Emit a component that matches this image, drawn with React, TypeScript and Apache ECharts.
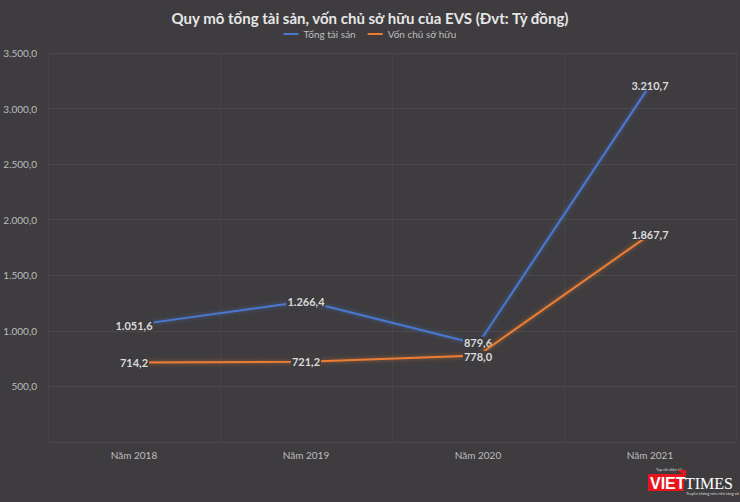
import React, { useEffect, useRef } from "react";
import * as echarts from "echarts";

const categories = ["Năm 2018", "Năm 2019", "Năm 2020", "Năm 2021"];
const tongTaiSan = [1051.6, 1266.4, 879.6, 3210.7];
const vonChuSoHuu = [714.2, 721.2, 778.0, 1867.7];
const seriesNames = ["Tổng tài sản", "Vốn chủ sở hữu"];
const titleText = "Quy mô tổng tài sản, vốn chủ sở hữu của EVS (Đvt: Tỷ đồng)";

const BG = "#3e3c3f";
const FONT = "Lato, 'Open Sans', sans-serif";

function fmt(v: number): string {
  const fixed = v.toFixed(1);
  const [intPart, dec] = fixed.split(".");
  const withDots = intPart.replace(/\B(?=(\d{3})+(?!\d))/g, ".");
  return withDots + "," + dec;
}

export default function App() {
  const ref = useRef<HTMLDivElement>(null);
  useEffect(() => {
    if (!ref.current) return;
    const chart = echarts.init(ref.current, undefined, { renderer: "svg" });
    const makeLabel = () => ({
      show: true,
      position: "inside",
      formatter: (p: any) => fmt(p.value),
      color: "#dadada",
      fontWeight: "bold",
      fontSize: 11,
      fontFamily: FONT,
      backgroundColor: BG,
      padding: [0, 1],
    });
    // nudge the two crowded labels at 2020 apart slightly
    const blueData = tongTaiSan.map((v, i) =>
      i === 2 ? { value: v, label: { offset: [0, -2] } } : v
    );
    const orangeData = vonChuSoHuu.map((v, i) =>
      i === 2 ? { value: v, label: { offset: [0, 1] } } : v
    );
    chart.setOption({
      animation: false,
      backgroundColor: BG,
      textStyle: { fontFamily: FONT },
      title: {
        text: titleText,
        left: "center",
        top: 5,
        textStyle: { color: "#e6e6e6", fontSize: 15, fontWeight: "bold", fontFamily: FONT },
      },
      legend: {
        top: 24,
        left: "center",
        icon: "rect",
        itemWidth: 15,
        itemHeight: 2,
        itemGap: 12,
        textStyle: { color: "#bdbdbd", fontSize: 10, fontFamily: FONT },
        data: seriesNames,
      },
      grid: { left: 48, right: 4, top: 53, bottom: 60 },
      xAxis: {
        type: "category",
        data: categories,
        boundaryGap: true,
        axisLine: { show: false },
        axisTick: { show: false },
        axisLabel: { color: "#bdbdbd", fontSize: 10, margin: 8, fontFamily: FONT },
        splitLine: { show: true, lineStyle: { color: "#474548", width: 1 } },
      },
      yAxis: {
        type: "value",
        min: 0,
        max: 3500,
        interval: 500,
        axisLine: { show: false },
        axisTick: { show: false },
        axisLabel: {
          color: "#bdbdbd",
          fontSize: 10,
          margin: 11,
          fontFamily: FONT,
          formatter: (v: number) => (v === 0 ? "" : fmt(v)),
        },
        splitLine: { show: true, lineStyle: { color: "#4a484b", width: 1 } },
      },
      series: [
        {
          name: seriesNames[0],
          type: "line",
          data: blueData,
          symbol: "circle",
          symbolSize: 2,
          showSymbol: true,
          color: "#4a78d0",
          itemStyle: { color: "#4a78d0" },
          lineStyle: { width: 2, color: "#4a78d0", shadowBlur: 4, shadowColor: "rgba(74,120,208,0.6)" },
          label: makeLabel(),
          z: 2,
        },
        {
          name: seriesNames[1],
          type: "line",
          data: orangeData,
          symbol: "circle",
          symbolSize: 2,
          showSymbol: true,
          color: "#ed7d31",
          itemStyle: { color: "#ed7d31" },
          lineStyle: { width: 2, color: "#ed7d31", shadowBlur: 4, shadowColor: "rgba(237,125,49,0.6)" },
          label: makeLabel(),
          z: 3,
        },
      ],
      graphic: [
        {
          type: "group",
          left: 648,
          top: 467,
          children: [
            {
              type: "text",
              x: 8,
              y: 0,
              style: { text: "Tạp chí điện tử", fill: "#dddddd", fontSize: 4, fontFamily: FONT },
            },
            {
              type: "rect",
              shape: { x: 0, y: 7, width: 36, height: 17 },
              style: { fill: "#e8141c" },
            },
            {
              type: "polygon",
              shape: { points: [[30, 3], [38, 3], [38, 10]] },
              style: { fill: "#e8141c" },
            },
            {
              type: "text",
              x: 2,
              y: 8,
              style: { text: "VIET", fill: "#ffffff", fontSize: 16, fontWeight: "bold", fontFamily: "'Liberation Sans', sans-serif" },
            },
            {
              type: "text",
              x: 37,
              y: 8,
              style: { text: "TIMES", fill: "#ffffff", fontSize: 16, fontFamily: "'Liberation Serif', serif" },
            },
            {
              type: "text",
              x: 38,
              y: 24,
              style: { text: "Truyền thông trên nền tảng số", fill: "#dddddd", fontSize: 4, fontFamily: FONT },
            },
          ],
        },
      ],
    });
    return () => chart.dispose();
  }, []);
  return <div ref={ref} style={{ width: 740, height: 502, position: "fixed", left: 0, top: 0 }} />;
}
